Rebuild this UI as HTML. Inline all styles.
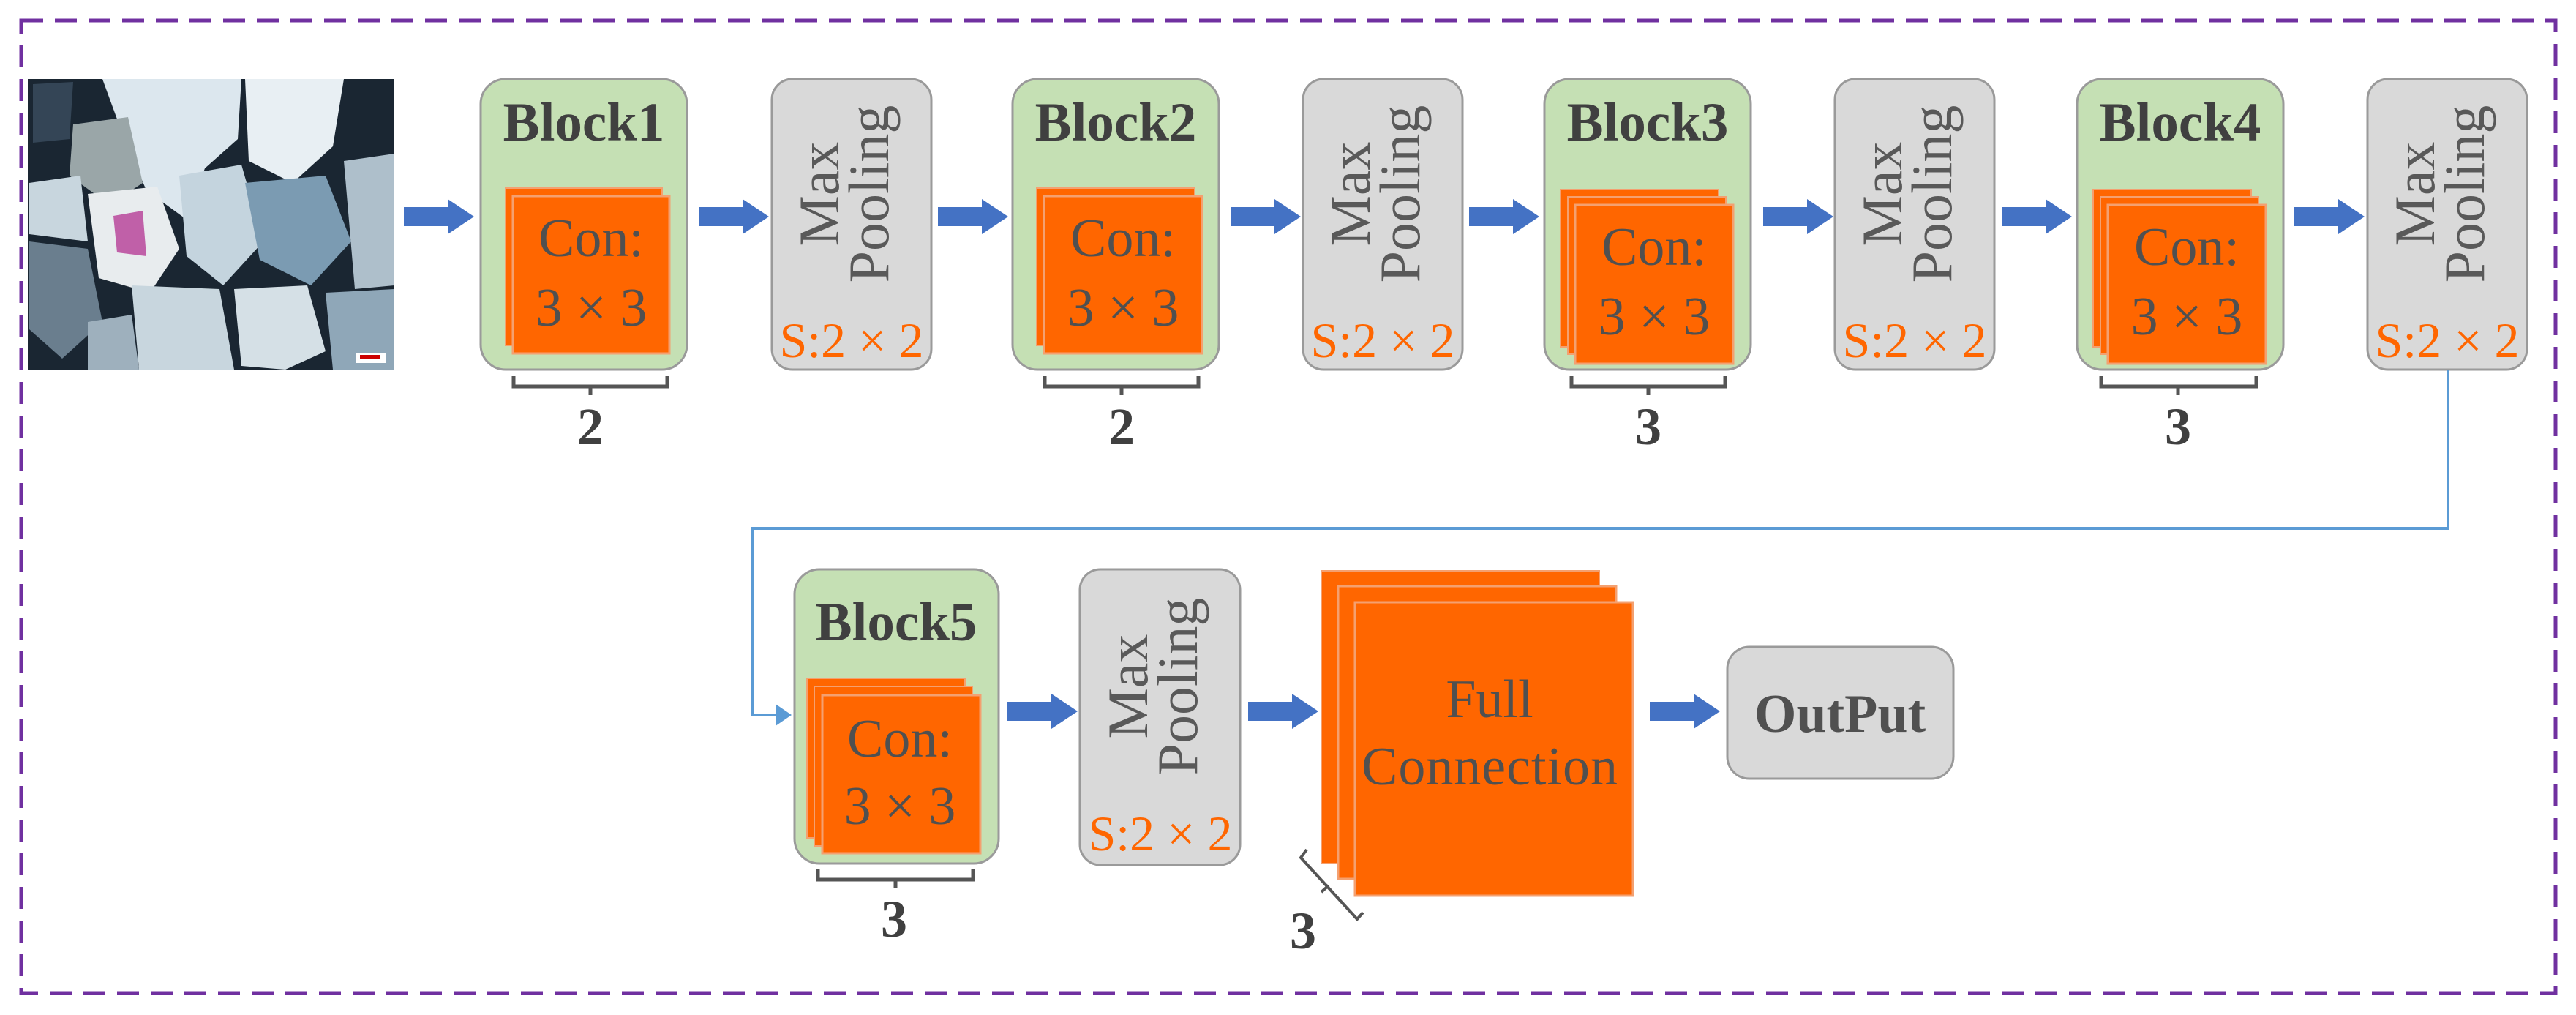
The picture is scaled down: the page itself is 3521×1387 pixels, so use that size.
<!DOCTYPE html>
<html><head><meta charset="utf-8"><style>
html,body{margin:0;padding:0;background:#fff;}
svg{display:block;}
text{font-family:"Liberation Serif",serif;}
</style></head><body>
<svg width="3521" height="1387" viewBox="0 0 3521 1387" xmlns="http://www.w3.org/2000/svg">
<defs>
<g id="arr"><path d="M0,-13 L60,-13 L60,-24 L96,0 L60,24 L60,13 L0,13 Z" fill="#4472c4"/></g>
</defs>
<rect x="29" y="28" width="3464" height="1329" fill="none" stroke="#7030a0" stroke-width="5" stroke-dasharray="30,16"/>

<!-- photo -->
<g>
<rect x="38" y="108" width="501" height="397" fill="#1a2632"/>
<path d="M140,108 L330,108 L325,190 L280,230 L255,300 L200,260 L170,190 Z" fill="#dce7ee"/>
<path d="M335,108 L470,108 L455,200 L400,250 L340,220 Z" fill="#e8eff3"/>
<path d="M100,170 L175,160 L195,250 L150,280 L95,240 Z" fill="#9aa6a8"/>
<path d="M120,265 L215,255 L245,340 L205,400 L135,380 Z" fill="#e8ecee"/>
<path d="M155,295 L195,288 L200,350 L160,345 Z" fill="#c060a8"/>
<path d="M245,240 L330,225 L360,330 L305,390 L255,350 Z" fill="#c4d4de"/>
<path d="M335,250 L445,240 L480,330 L425,390 L355,355 Z" fill="#7b9bb2"/>
<path d="M470,220 L539,210 L539,390 L485,395 Z" fill="#aebfcb"/>
<path d="M40,330 L120,340 L140,440 L85,490 L40,450 Z" fill="#6a7e8e"/>
<path d="M40,250 L110,240 L120,330 L40,320 Z" fill="#c8d6de"/>
<path d="M180,390 L300,395 L320,505 L190,505 Z" fill="#c8d6de"/>
<path d="M320,395 L420,390 L445,480 L390,505 L330,500 Z" fill="#d5e0e6"/>
<path d="M445,400 L539,395 L539,505 L455,505 Z" fill="#8fa7b8"/>
<path d="M120,440 L180,430 L190,505 L120,505 Z" fill="#9eb0bd"/>
<path d="M45,115 L100,112 L95,190 L45,195 Z" fill="#344556"/>
<rect x="487" y="482" width="40" height="14" fill="#fff"/>
<rect x="492" y="485" width="28" height="6" fill="#c00"/>
</g>

<!-- row 1 arrows -->
<use href="#arr" x="552" y="296"/>
<use href="#arr" x="955" y="296"/>
<use href="#arr" x="1282" y="296"/>
<use href="#arr" x="1682" y="296"/>
<use href="#arr" x="2008" y="296"/>
<use href="#arr" x="2410" y="296"/>
<use href="#arr" x="2736" y="296"/>
<use href="#arr" x="3136" y="296"/>

<!-- Block1 -->
<rect x="657" y="108" width="282" height="397" rx="34" fill="#c5e0b4" stroke="#9a9a9a" stroke-width="3"/>
<text x="798" y="192" font-size="75" font-weight="bold" fill="#404040" text-anchor="middle">Block1</text>
<rect x="691" y="257" width="214" height="215" fill="#ff6600" stroke="#f4a070" stroke-width="2"/>
<rect x="701" y="268" width="214" height="215" fill="#ff6600" stroke="#f4a070" stroke-width="3"/>
<text x="808" y="350" font-size="74" fill="#505050" text-anchor="middle">Con:</text>
<text x="808" y="445" font-size="74" fill="#505050" text-anchor="middle">3 × 3</text>
<path d="M702,514 L702,528 L912,528 L912,514 M807,528 L807,540" fill="none" stroke="#555" stroke-width="5"/>
<text x="807" y="607" font-size="72" font-weight="bold" fill="#404040" text-anchor="middle">2</text>

<!-- Block2 -->
<rect x="1384" y="108" width="282" height="397" rx="34" fill="#c5e0b4" stroke="#9a9a9a" stroke-width="3"/>
<text x="1525" y="192" font-size="75" font-weight="bold" fill="#404040" text-anchor="middle">Block2</text>
<rect x="1417" y="257" width="216" height="215" fill="#ff6600" stroke="#f4a070" stroke-width="2"/>
<rect x="1427" y="268" width="216" height="215" fill="#ff6600" stroke="#f4a070" stroke-width="3"/>
<text x="1535" y="350" font-size="74" fill="#505050" text-anchor="middle">Con:</text>
<text x="1535" y="445" font-size="74" fill="#505050" text-anchor="middle">3 × 3</text>
<path d="M1428,514 L1428,528 L1638,528 L1638,514 M1533,528 L1533,540" fill="none" stroke="#555" stroke-width="5"/>
<text x="1533" y="607" font-size="72" font-weight="bold" fill="#404040" text-anchor="middle">2</text>

<!-- Block3 -->
<rect x="2111" y="108" width="282" height="397" rx="34" fill="#c5e0b4" stroke="#9a9a9a" stroke-width="3"/>
<text x="2252" y="192" font-size="75" font-weight="bold" fill="#404040" text-anchor="middle">Block3</text>
<rect x="2133" y="259" width="216" height="215" fill="#ff6600" stroke="#f4a070" stroke-width="2"/>
<rect x="2143" y="269" width="216" height="215" fill="#ff6600" stroke="#f4a070" stroke-width="2"/>
<rect x="2153" y="280" width="216" height="217" fill="#ff6600" stroke="#f4a070" stroke-width="3"/>
<text x="2261" y="362" font-size="74" fill="#505050" text-anchor="middle">Con:</text>
<text x="2261" y="457" font-size="74" fill="#505050" text-anchor="middle">3 × 3</text>
<path d="M2148,514 L2148,528 L2358,528 L2358,514 M2253,528 L2253,540" fill="none" stroke="#555" stroke-width="5"/>
<text x="2253" y="607" font-size="72" font-weight="bold" fill="#404040" text-anchor="middle">3</text>

<!-- Block4 -->
<rect x="2839" y="108" width="282" height="397" rx="34" fill="#c5e0b4" stroke="#9a9a9a" stroke-width="3"/>
<text x="2980" y="192" font-size="75" font-weight="bold" fill="#404040" text-anchor="middle">Block4</text>
<rect x="2861" y="259" width="216" height="215" fill="#ff6600" stroke="#f4a070" stroke-width="2"/>
<rect x="2871" y="269" width="216" height="215" fill="#ff6600" stroke="#f4a070" stroke-width="2"/>
<rect x="2881" y="280" width="216" height="217" fill="#ff6600" stroke="#f4a070" stroke-width="3"/>
<text x="2989" y="362" font-size="74" fill="#505050" text-anchor="middle">Con:</text>
<text x="2989" y="457" font-size="74" fill="#505050" text-anchor="middle">3 × 3</text>
<path d="M2872,514 L2872,528 L3084,528 L3084,514 M2977,528 L2977,540" fill="none" stroke="#555" stroke-width="5"/>
<text x="2977" y="607" font-size="72" font-weight="bold" fill="#404040" text-anchor="middle">3</text>

<!-- Max pooling row 1 -->
<g id="mp">
<rect x="1055" y="108" width="218" height="397" rx="28" fill="#d9d9d9" stroke="#9a9a9a" stroke-width="3"/>
<text transform="translate(1146,265) rotate(-90)" font-size="78" fill="#595959" text-anchor="middle">Max</text>
<text transform="translate(1214,265) rotate(-90)" font-size="78" fill="#595959" text-anchor="middle">Pooling</text>
<text x="1164" y="488" font-size="68" fill="#ff6600" text-anchor="middle">S:2 × 2</text>
</g>
<use href="#mp" x="726"/>
<use href="#mp" x="1453"/>
<use href="#mp" x="2181"/>

<!-- connector -->
<path d="M3346,505 L3346,722 L1029,722 L1029,977 L1062,977" fill="none" stroke="#5b9bd5" stroke-width="4"/>
<path d="M1060,962 L1082,977 L1060,992 Z" fill="#5b9bd5"/>

<!-- Block5 -->
<rect x="1086" y="778" width="279" height="402" rx="34" fill="#c5e0b4" stroke="#9a9a9a" stroke-width="3"/>
<text x="1225" y="875" font-size="75" font-weight="bold" fill="#404040" text-anchor="middle">Block5</text>
<rect x="1103" y="927" width="216" height="218" fill="#ff6600" stroke="#f4a070" stroke-width="2"/>
<rect x="1113" y="938" width="216" height="218" fill="#ff6600" stroke="#f4a070" stroke-width="2"/>
<rect x="1124" y="950" width="216" height="216" fill="#ff6600" stroke="#f4a070" stroke-width="3"/>
<text x="1230" y="1034" font-size="74" fill="#505050" text-anchor="middle">Con:</text>
<text x="1230" y="1126" font-size="74" fill="#505050" text-anchor="middle">3 × 3</text>
<path d="M1118,1188 L1118,1202 L1330,1202 L1330,1188 M1224,1202 L1224,1214" fill="none" stroke="#555" stroke-width="5"/>
<text x="1222" y="1280" font-size="72" font-weight="bold" fill="#404040" text-anchor="middle">3</text>

<use href="#arr" x="1377" y="972"/>
<!-- MP5 -->
<rect x="1476" y="778" width="219" height="404" rx="28" fill="#d9d9d9" stroke="#9a9a9a" stroke-width="3"/>
<text transform="translate(1568,938) rotate(-90)" font-size="78" fill="#595959" text-anchor="middle">Max</text>
<text transform="translate(1636,938) rotate(-90)" font-size="78" fill="#595959" text-anchor="middle">Pooling</text>
<text x="1586" y="1162" font-size="68" fill="#ff6600" text-anchor="middle">S:2 × 2</text>

<use href="#arr" x="1706" y="972"/>
<!-- FC -->
<rect x="1806" y="780" width="380" height="400" fill="#ff6600" stroke="#f4a070" stroke-width="2"/>
<rect x="1829" y="801" width="380" height="400" fill="#ff6600" stroke="#f4a070" stroke-width="3"/>
<rect x="1852" y="823" width="380" height="401" fill="#ff6600" stroke="#f4a070" stroke-width="3"/>
<text x="2036" y="980" font-size="74" fill="#505050" text-anchor="middle">Full</text>
<text x="2036" y="1072" font-size="74" fill="#505050" text-anchor="middle" textLength="350">Connection</text>
<path d="M1786,1161 L1778,1172 L1855,1256 L1863,1247 M1816,1210 L1806,1219" fill="none" stroke="#555" stroke-width="4"/>
<text x="1781" y="1296" font-size="72" font-weight="bold" fill="#404040" text-anchor="middle">3</text>

<use href="#arr" x="2255" y="972"/>
<!-- Output -->
<rect x="2361" y="884" width="309" height="180" rx="30" fill="#d9d9d9" stroke="#9a9a9a" stroke-width="3"/>
<text x="2515" y="1000" font-size="74" font-weight="bold" fill="#505050" text-anchor="middle">OutPut</text>
</svg>
</body></html>
